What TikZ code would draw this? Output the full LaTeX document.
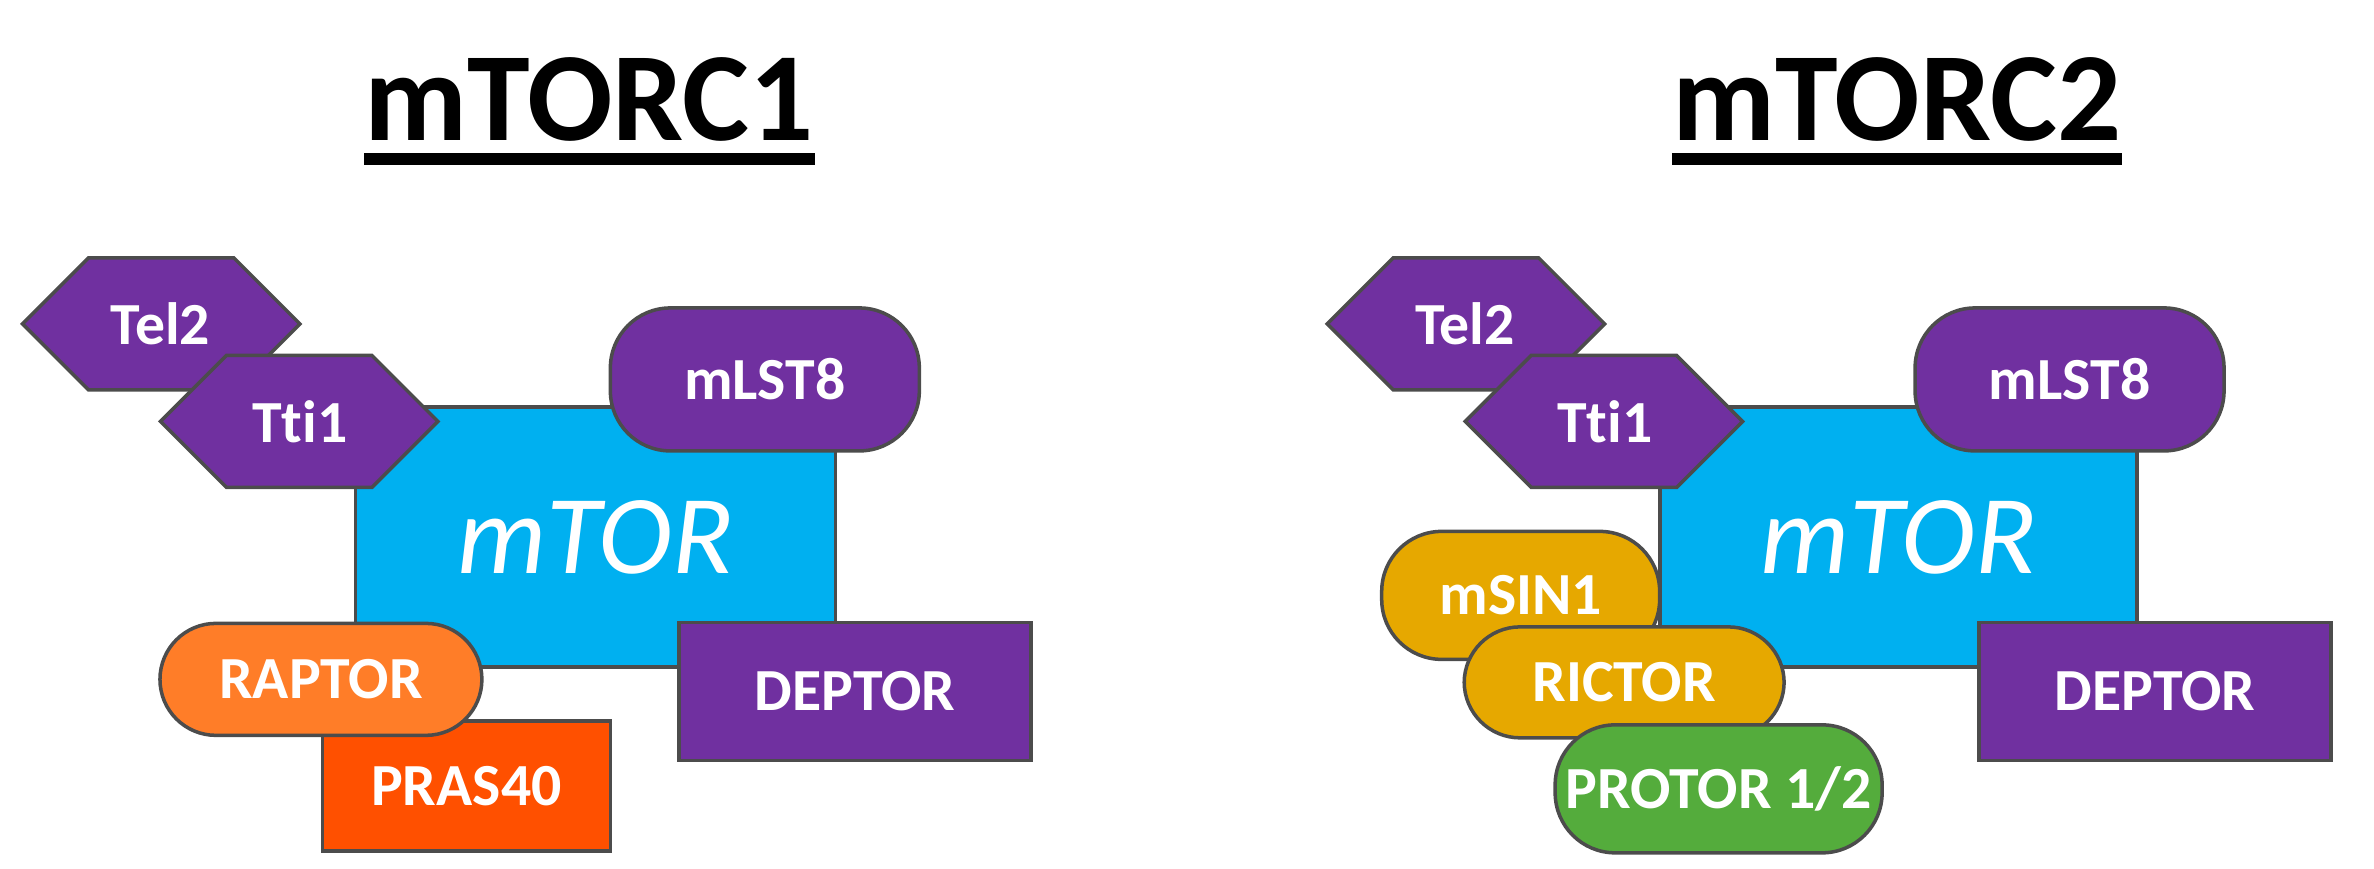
\documentclass[tikz,border=0pt]{standalone}
\usepackage{fontspec}
\setmainfont{Carlito}[Ligatures={NoCommon}]
\definecolor{cy}{RGB}{0,176,240}
\definecolor{pu}{RGB}{112,48,160}
\definecolor{orr}{RGB}{255,125,40}
\definecolor{rd}{RGB}{255,80,0}
\definecolor{ye}{RGB}{230,168,0}
\definecolor{gr}{RGB}{84,172,60}
\begin{document}
\begin{tikzpicture}[x=0.015cm,y=-0.015cm,
  box/.style={draw=black!70,line width=1pt,text=white,font=\fontsize{17}{20}\selectfont\bfseries,inner sep=0pt},
  lbl/.style={text=white,font=\fontsize{17}{20}\selectfont\bfseries},
  title/.style={font=\fontsize{36}{42}\selectfont\bfseries,inner sep=0pt},
  uline/.style={line width=3.5pt},
  hexs/.style={fill=pu,draw=black!70,line width=1pt}]
\useasboundingbox (0,0) rectangle (1583,579);
\newcommand{\hexa}[4]{% x1,x2,ytop,ybot
  \path[hexs] (#1,{(#3+#4)/2}) -- ({#1+44},#3) -- ({#2-44},#3) -- (#2,{(#3+#4)/2}) -- ({#2-44},#4) -- ({#1+44},#4) -- cycle;}
% ---------- mTORC1
\node[title] (t1) at (393,66) {mTORC1};
\draw[uline] ([yshift=-5pt]t1.south west) -- ([yshift=-5pt]t1.south east);
\node[box,fill=cy,minimum width=4.8cm,minimum height=2.6cm,font=\fontsize{32}{36}\selectfont\itshape] (m1) at (397,358) {mTOR};
\hexa{15}{200}{172}{260}
\node[lbl] (tel1) at (107,216) {Tel2};
\hexa{107}{292}{237}{325}
\node[lbl] (tti1) at (200,281) {Tti1};
\node[box,fill=pu,rounded corners=0.6cm,minimum width=3.09cm,minimum height=1.43cm] (ml1) at (510,253) {mLST8};
\node[box,fill=rd,minimum width=2.88cm,minimum height=1.3cm] (pr1) at (311,524) {PRAS40};
\node[box,fill=orr,rounded corners=0.56cm,minimum width=3.22cm,minimum height=1.12cm] (ra1) at (214,453) {RAPTOR};
\node[box,fill=pu,minimum width=3.52cm,minimum height=1.38cm] (de1) at (570,461) {DEPTOR};
% ---------- mTORC2
\node[title] (t2) at (1265,66) {mTORC2};
\draw[uline] ([yshift=-5pt]t2.south west) -- ([yshift=-5pt]t2.south east);
\node[box,fill=cy,minimum width=4.77cm,minimum height=2.6cm,font=\fontsize{32}{36}\selectfont\itshape] (m2) at (1266,358) {mTOR};
\hexa{885}{1070}{172}{260}
\node[lbl] (tel2) at (977,216) {Tel2};
\hexa{977}{1162}{237}{325}
\node[lbl] (tti2) at (1070,281) {Tti1};
\node[box,fill=pu,rounded corners=0.6cm,minimum width=3.09cm,minimum height=1.43cm] (ml2) at (1380,253) {mLST8};
\node[box,fill=ye,rounded corners=0.6cm,minimum width=2.78cm,minimum height=1.28cm] (ms2) at (1014,397) {mSIN1};
\node[box,fill=ye,rounded corners=0.56cm,minimum width=3.2cm,minimum height=1.11cm] (ri2) at (1083,455) {RICTOR};
\node[box,fill=gr,rounded corners=0.6cm,minimum width=3.27cm,minimum height=1.28cm] (pt2) at (1146,526) {PROTOR 1/2};
\node[box,fill=pu,minimum width=3.52cm,minimum height=1.38cm] (de2) at (1437,461) {DEPTOR};
\end{tikzpicture}
\end{document}
